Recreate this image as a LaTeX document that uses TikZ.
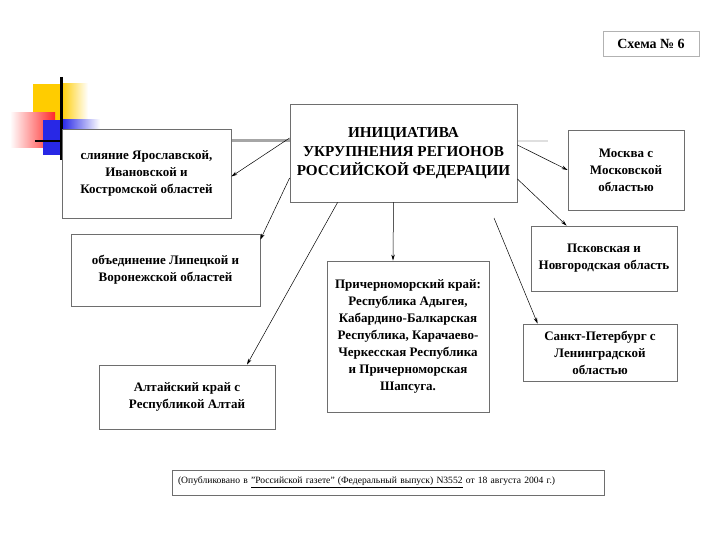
\documentclass[tikz,border=0pt]{standalone}
\usepackage{fontspec}
\setmainfont{Liberation Serif}
\usepackage{tikz}
\usetikzlibrary{arrows.meta, positioning, calc}
\definecolor{TplYellow}{RGB}{255,204,0}
\definecolor{TplRed}{RGB}{255,40,40}
\definecolor{TplBlue}{RGB}{40,40,230}
\definecolor{BoxLine}{RGB}{110,110,110}

\tikzset{
  regbox/.style={draw=BoxLine, line width=0.8pt, fill=white, align=center,
                 inner sep=2pt, font=\bfseries\fontsize{13}{17}\selectfont},
  arr/.style={-{Stealth[length=6pt,width=3.5pt]}, line width=0.5pt}
}

\begin{document}
\begin{tikzpicture}[x=1pt, y=-1pt]
  \useasboundingbox (0,0) rectangle (720,540);

  % template corner
  \fill[TplYellow] (33,84) rectangle (61,125);
  \shade[left color=TplYellow, right color=white] (61,84) rectangle (88,125);
  \shade[left color=white, right color=TplRed] (10,113) rectangle (55,148);
  \fill[TplBlue] (43,120) rectangle (62,155);
  \shade[left color=TplBlue, right color=white] (62,120) rectangle (100,133);
  \draw[line width=3pt] (61,77) -- (61,160);
  \draw[line width=2pt] (35,141) -- (62,141);
  \draw[gray!70, line width=3pt] (62,141) -- (517,141);
  \draw[gray!25, line width=2pt] (517,141) -- (548,141);

  \node[draw=gray!60, line width=0.8pt, minimum width=96pt, minimum height=25pt,
        font=\bfseries\fontsize{14}{16}\selectfont] (scheme) at (651,43.5) {Схема № 6};

  \node[regbox, minimum width=227pt, minimum height=98pt,
        font=\bfseries\fontsize{15.2}{19}\selectfont] (init) at (403.5,153)
    {ИНИЦИАТИВА\\УКРУПНЕНИЯ РЕГИОНОВ\\РОССИЙСКОЙ ФЕДЕРАЦИИ};

  \node[regbox, minimum width=169pt, minimum height=89pt] (yar) at (146.5,173.5)
    {слияние Ярославской,\\Ивановской и\\Костромской областей};
  \node[regbox, minimum width=189pt, minimum height=72pt] (lip) at (165.5,270)
    {объединение Липецкой и\\Воронежской областей};
  \node[regbox, minimum width=176pt, minimum height=64pt] (alt) at (187,397)
    {Алтайский край с\\Республикой Алтай};
  \node[regbox, minimum width=162pt, minimum height=151pt] (pri) at (408,336.5)
    {Причерноморский край:\\Республика Адыгея,\\Кабардино-Балкарская\\Республика, Карачаево-\\Черкесская Республика\\и Причерноморская\\Шапсуга.};
  \node[regbox, minimum width=116pt, minimum height=80pt] (msk) at (626,170)
    {Москва с\\Московской\\областью};
  \node[regbox, minimum width=146pt, minimum height=65pt] (psk) at (604,258.5)
    {Псковская и\\Новгородская область};
  \node[regbox, minimum width=154pt, minimum height=57pt] (spb) at (600,352.5)
    {Санкт-Петербург с\\Ленинградской\\областью};

  \node[draw=BoxLine, line width=0.8pt, minimum width=432pt, minimum height=25pt,
        text width=420pt, align=left, font=\fontsize{9.6}{12}\selectfont] (pub) at (388,482.5)
    {(Опубликовано в \underline{"Российской газете" (Федеральный выпуск) N3552} от 18 августа 2004 г.)};

  \coordinate (spbfrom) at (494,218);

  \draw[arr] ([yshift=15pt]init.west) -- ([yshift=-3pt]yar.east);
  \draw[arr] ([yshift=-25pt]init.west) -- ([yshift=-6pt]lip.north east);
  \draw[arr] ([xshift=48pt]init.south west) -- ([xshift=60pt]alt.north);
  \draw[arr] ([xshift=-10pt]init.south) -- ([xshift=-15pt]pri.north);
  \draw[arr] ([yshift=8pt]init.east) -- (msk.west);
  \draw[arr] ([yshift=-26pt]init.east) -- ([xshift=36pt]psk.north west);
  \draw[arr] (spbfrom) -- ([xshift=15pt]spb.north west);
\end{tikzpicture}
\end{document}
